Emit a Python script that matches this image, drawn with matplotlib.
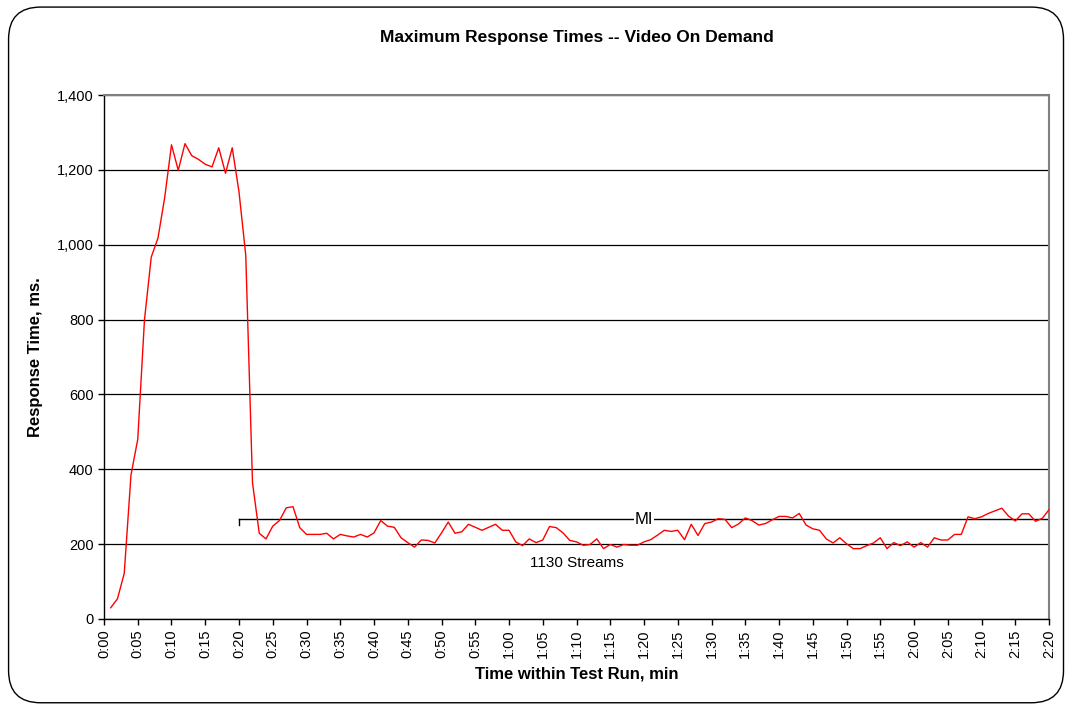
import matplotlib.pyplot as plt
from matplotlib.patches import FancyBboxPatch
from matplotlib.ticker import FuncFormatter, MultipleLocator

plt.rcParams["font.family"] = ["Liberation Sans", "DejaVu Sans"]

# minutes into the run (one sample per minute)
minutes = list(range(1, 141))
max_response_ms = [
    30, 54, 122, 385, 480, 800, 967, 1018, 1127, 1267,
    1199, 1270, 1238, 1228, 1215, 1208, 1259, 1191, 1259, 1141,
    972, 364, 229, 214, 248, 263, 297, 300, 244, 226,
    226, 226, 229, 214, 226, 222, 219, 226, 219, 230,
    263, 248, 245, 217, 204, 192, 211, 210, 203, 230,
    259, 229, 233, 253, 245, 237, 245, 253, 237, 237,
    206, 196, 214, 204, 211, 247, 244, 230, 210, 206,
    197, 199, 214, 188, 199, 192, 199, 197, 197, 206,
    212, 224, 237, 234, 237, 212, 253, 223, 255, 259,
    268, 266, 244, 254, 270, 263, 251, 255, 265, 274,
    274, 270, 282, 251, 241, 237, 214, 203, 217, 201,
    188, 188, 196, 203, 217, 188, 204, 196, 206, 192,
    204, 192, 217, 211, 211, 226, 226, 273, 268, 273,
    282, 289, 296, 275, 262, 281, 281, 261, 269, 292,
]

# measurement interval bracket
mi_start, mi_end, mi_level = 20, 140, 266
mi_label = "MI"
streams_label = "1130 Streams"

fig = plt.figure(figsize=(10.71, 7.07), dpi=100)
ax = fig.add_axes([0.0971, 0.1245, 0.8824, 0.7411])

# rounded outer frame
frame = FancyBboxPatch(
    (0.008, 0.006), 0.985, 0.984,
    boxstyle="round,pad=0,rounding_size=0.03",
    transform=fig.transFigure, fill=False, edgecolor="black", linewidth=1.0,
    mutation_aspect=1071 / 707,
)
fig.patches.append(frame)

ax.plot(minutes, max_response_ms, color="#ff0000", lw=1.0, zorder=3)

# MI bracket
ax.plot([mi_start, mi_end], [mi_level, mi_level], color="black", lw=1.0, zorder=2)
ax.plot([mi_start, mi_start], [mi_level, mi_level - 14], color="black", lw=1.0)
ax.plot([mi_end, mi_end], [mi_level, mi_level - 14], color="black", lw=1.0)
ax.text((mi_start + mi_end) / 2, mi_level, mi_label, ha="center", va="center", fontsize=12,
        bbox=dict(facecolor="white", edgecolor="none", pad=0.5), zorder=2.5)
ax.text(70, 150, streams_label, ha="center", va="center", fontsize=11)

ax.set_xlim(0, 140)
ax.set_ylim(0, 1400)
ax.xaxis.set_major_locator(MultipleLocator(5))
ax.yaxis.set_major_locator(MultipleLocator(200))
ax.xaxis.set_major_formatter(FuncFormatter(lambda v, p: f"{int(v) // 60}:{int(v) % 60:02d}"))
ax.yaxis.set_major_formatter(FuncFormatter(lambda v, p: f"{int(v):,}"))
plt.setp(ax.get_xticklabels(), rotation=90)
ax.tick_params(axis="both", labelsize=10.5, direction="out", length=4, width=1.0)

ax.grid(axis="y", color="black", lw=0.9)
ax.set_axisbelow(True)
for side in ("top", "right"):
    ax.spines[side].set_color("#808080")
    ax.spines[side].set_linewidth(1.5)
for side in ("left", "bottom"):
    ax.spines[side].set_color("black")
    ax.spines[side].set_linewidth(1.0)

ax.set_title("Maximum Response Times -- Video On Demand", fontsize=12.5, weight="bold", pad=38)
ax.set_xlabel("Time within Test Run, min", fontsize=12, weight="bold", labelpad=6)
ax.set_ylabel("Response Time, ms.", fontsize=12, weight="bold", labelpad=10)

fig.savefig("out.png", dpi=100)
